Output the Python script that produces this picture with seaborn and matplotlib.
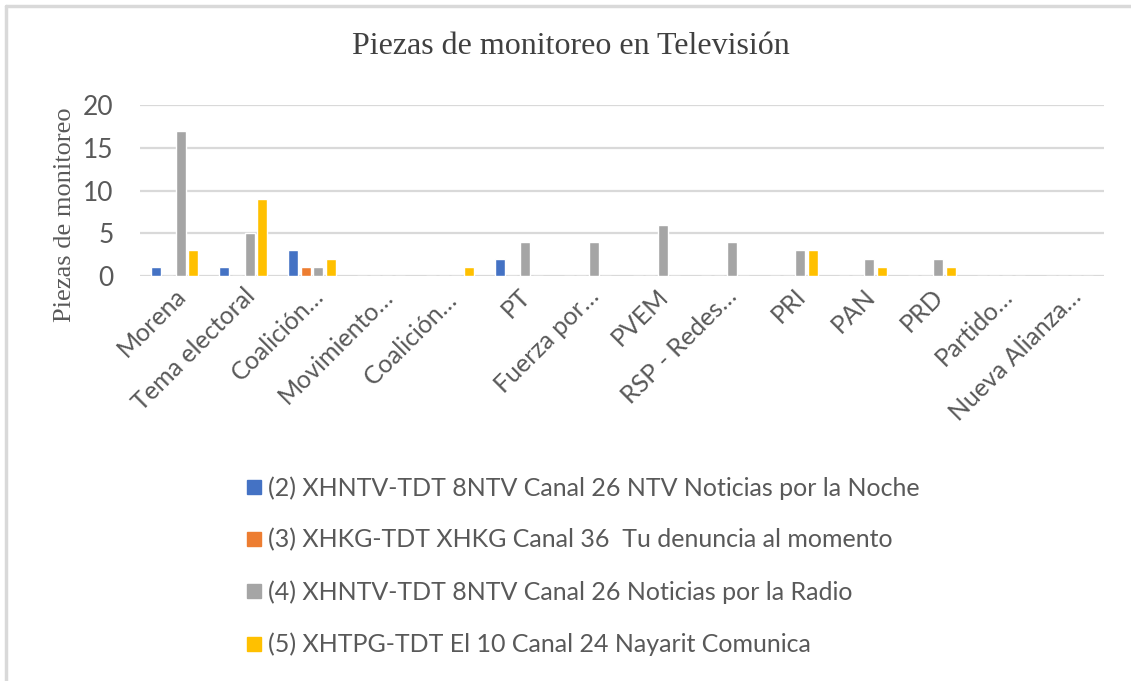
import pandas as pd
import matplotlib
matplotlib.use("Agg")
import matplotlib.pyplot as plt
import seaborn as sns
from matplotlib.lines import Line2D

categorias = ["Morena", "Tema electoral", "Coalición…", "Movimiento…", "Coalición… ",
              "PT", "Fuerza por…", "PVEM", "RSP - Redes…", "PRI", "PAN", "PRD",
              "Partido…", "Nueva Alianza…"]
series = ["(2) XHNTV-TDT 8NTV Canal 26 NTV Noticias por la Noche",
          "(3) XHKG-TDT XHKG Canal 36  Tu denuncia al momento",
          "(4) XHNTV-TDT 8NTV Canal 26 Noticias por la Radio",
          "(5) XHTPG-TDT El 10 Canal 24 Nayarit Comunica"]
s2 = [1, 1, 3, 0, 0, 2, 0, 0, 0, 0, 0, 0, 0, 0]
s3 = [0, 0, 1, 0, 0, 0, 0, 0, 0, 0, 0, 0, 0, 0]
s4 = [17, 5, 1, 0, 0, 4, 4, 6, 4, 3, 2, 2, 0, 0]
s5 = [3, 9, 2, 0, 1, 0, 0, 0, 0, 3, 1, 1, 0, 0]
colores = ["#4472C4", "#ED7D31", "#A5A5A5", "#FFC000"]

rows = []
for nombre, vals in zip(series, [s2, s3, s4, s5]):
    for c, v in zip(categorias, vals):
        rows.append({"cat": c, "serie": nombre, "val": v})
df = pd.DataFrame(rows)

sns.set_style("white")
plt.rcParams["font.family"] = ["Lato", "DejaVu Sans"]

fig = plt.figure(figsize=(11.31, 6.81), dpi=100)
ax = fig.add_axes([140 / 1131, 1 - 276 / 681, (1104 - 140) / 1131, (276 - 105) / 681])

sns.barplot(data=df, x="cat", y="val", hue="serie", order=categorias,
            hue_order=series, palette=colores, saturation=1, width=0.73,
            gap=0.2, ax=ax, legend=False)

ax.set_ylim(0, 20)
ax.set_xlim(-0.5, len(categorias) - 0.5)
ax.set_yticks([0, 5, 10, 15, 20])
ax.yaxis.grid(True, color="#D9D9D9", linewidth=1.6)
ax.set_axisbelow(True)
for s in ax.spines.values():
    s.set_visible(False)
ax.tick_params(axis="both", length=0, colors="#595959")
ax.tick_params(axis="y", pad=19, labelsize=19)
ax.set_xlabel("")
ax.set_ylabel("Piezas de monitoreo", family="Liberation Serif", fontsize=19,
              color="#595959")
ax.yaxis.set_label_coords(-0.066, 0.36)
ax.set_xticks(range(len(categorias)))
ax.set_xticklabels(categorias, rotation=45, ha="right", rotation_mode="anchor",
                   va="top", fontsize=18, color="#595959")
ax.tick_params(axis="x", pad=6)

fig.text(0.505, 1 - 47 / 681, "Piezas de monitoreo en Televisión",
         family="Liberation Serif", fontsize=23, color="#404040",
         ha="center", va="center")

handles = [Line2D([0], [0], marker="s", linestyle="", markersize=10,
                  markerfacecolor=c, markeredgecolor=c) for c in colores]
fig.legend(handles, series, loc="upper left",
           bbox_to_anchor=(234 / 1131, 1 - 466 / 681), frameon=False,
           fontsize=18, labelcolor="#595959", handletextpad=0.15,
           labelspacing=1.15, handlelength=0.8, borderaxespad=0)

# marco gris del gráfico
fig.add_artist(Line2D([6 / 1131, 6 / 1131], [0, 1 - 6 / 681],
                      transform=fig.transFigure, color="#D9D9D9", linewidth=2.5))
fig.add_artist(Line2D([6 / 1131, 1], [1 - 6 / 681, 1 - 6 / 681],
                      transform=fig.transFigure, color="#D9D9D9", linewidth=2.5))

fig.savefig("out.png", dpi=100)
